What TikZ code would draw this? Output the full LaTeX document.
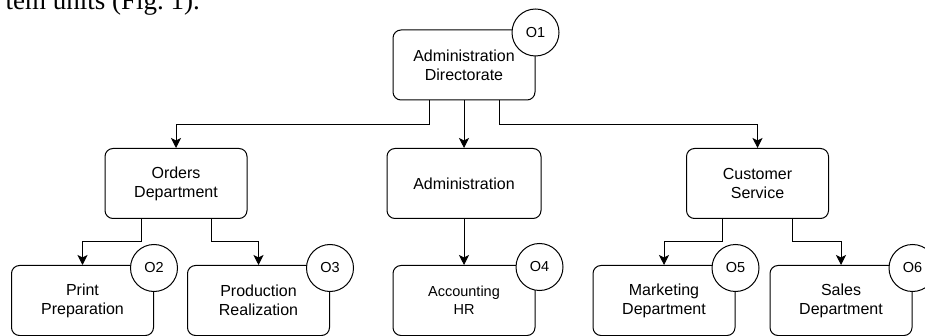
\documentclass[tikz,border=0pt]{standalone}
\usepackage{fontspec}
\setmainfont{Liberation Sans}
\newfontfamily\bodyfont{Liberation Serif}
\usetikzlibrary{arrows.meta}

\begin{document}
\begin{tikzpicture}[
        x=1pt, y=-1pt,
        unit/.style={draw, rounded corners=8pt, minimum width=142pt, minimum height=70pt,
            align=center, line width=1pt, font=\fontsize{16}{19}\selectfont},
        tag/.style={draw, circle, fill=white, minimum size=47pt, inner sep=0pt,
            line width=1pt, font=\fontsize{14.5}{17}\selectfont},
        link/.style={draw, line width=1pt, -{Stealth[length=10pt, width=10pt, inset=2.5pt]}},
    ]
    \useasboundingbox (0,0) rectangle (925,336);
    \begin{scope}
        \clip (0,0) rectangle (925,336);
        \node[anchor=base east, inner sep=0pt, font=\bodyfont\fontsize{27}{30}\selectfont] (caption) at (200,10) {tem units (Fig.~1).};
    \end{scope}

    % top
    \node[unit] (dir) at (464,65) {Administration\\Directorate};
    % second level
    \node[unit] (orders) at (176,183.5) {Orders\\Department};
    \node[unit, minimum width=154pt] (admin) at (464,183.5) {Administration};
    \node[unit] (cust) at (757.5,183.5) {Customer\\Service};
    % third level
    \node[unit] (print) at (82.5,300.5) {Print\\Preparation};
    \node[unit] (prod) at (258.5,300.5) {Production\\Realization};
    \node[unit, font=\fontsize{14.5}{18}\selectfont] (acc) at (464,300.5) {Accounting\\HR};
    \node[unit] (mark) at (664,300.5) {Marketing\\Department};
    \node[unit] (sales) at (841,300.5) {Sales\\Department};

    \draw[link] ([xshift=-35pt]dir.south) -- ++(0,24) -| (orders.north);
    \draw[link] (dir.south) -- (admin.north);
    \draw[link] ([xshift=35pt]dir.south) -- ++(0,24) -| (cust.north);
    \draw[link] ([xshift=-35pt]orders.south) -- ++(0,23) -| (print.north);
    \draw[link] ([xshift=35pt]orders.south) -- ++(0,23) -| (prod.north);
    \draw[link] (admin.south) -- (acc.north);
    \draw[link] ([xshift=-35pt]cust.south) -- ++(0,23) -| (mark.north);
    \draw[link] ([xshift=35pt]cust.south) -- ++(0,23) -| (sales.north);

    % tags
    \node[tag] (o1) at ([yshift=-3pt]dir.north east) {O1};
    \node[tag] (o2) at ([yshift=-3pt]print.north east) {O2};
    \node[tag] (o3) at ([yshift=-3pt]prod.north east) {O3};
    \node[tag] (o4) at ([shift={(4pt,-2pt)}]acc.north east) {O4};
    \node[tag] (o5) at ([yshift=-3pt]mark.north east) {O5};
    \node[tag] (o6) at ([yshift=-3pt]sales.north east) {O6};
\end{tikzpicture}
\end{document}
